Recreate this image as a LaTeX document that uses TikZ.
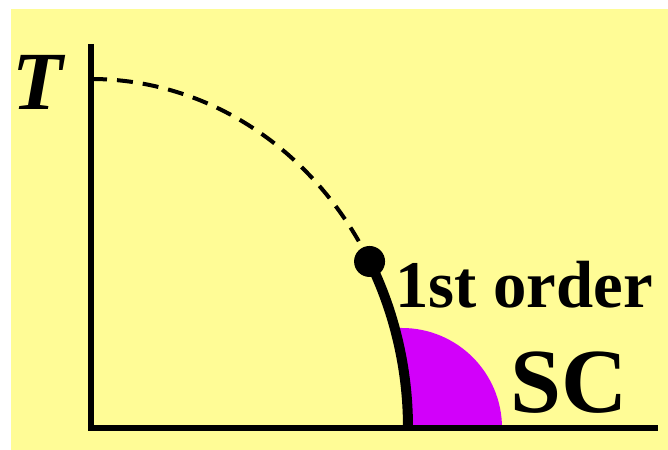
\documentclass[tikz,border=0pt]{standalone}
\usepackage{fontspec}
\setmainfont{Liberation Serif}
\definecolor{bgyellow}{RGB}{255,252,150}
\definecolor{scmag}{RGB}{210,0,250}
\begin{document}
\begin{tikzpicture}[x=1bp,y=1bp,
  axisline/.style={line width=6bp,line join=miter},
  dashedline/.style={line width=4bp,dash pattern=on 16bp off 10bp},
  solidline/.style={line width=10bp},
  lbl/.style={inner sep=0pt,anchor=base west,font=\bfseries}]
\useasboundingbox (0,0) rectangle (668,450);
\fill[bgyellow] (11,0) rectangle (668,441);
\coordinate (top) at (91,406);
\coordinate (origin) at (91,22);
\coordinate (right) at (658,22);
\coordinate (tc) at (91,371);
\coordinate (bot) at (408,22);
\coordinate (sctop) at (402,122);
% SC region
\fill[scmag] (sctop) arc[start angle=90,end angle=0,radius=100] -- (bot)
  arc[start angle=0,end angle=16.65,x radius=317,y radius=349] -- cycle;
% axes
\draw[axisline] (top) -- (origin) -- (right);
% phase boundary
\draw[dashedline] (tc) arc[start angle=90,end angle=28.5,x radius=317,y radius=349] coordinate (cp);
\draw[solidline] (cp) arc[start angle=28.5,end angle=0,x radius=317,y radius=349];
\fill (cp) circle[radius=15.5];
\node[lbl,font=\fontsize{83}{83}\selectfont\bfseries\itshape] (T) at (12,340) {T};
\node[lbl,font=\fontsize{67}{67}\selectfont\bfseries] (order) at (395,142) {1st order};
\node[lbl,font=\fontsize{92}{92}\selectfont\bfseries] (sc) at (510,37) {SC};
\end{tikzpicture}
\end{document}
